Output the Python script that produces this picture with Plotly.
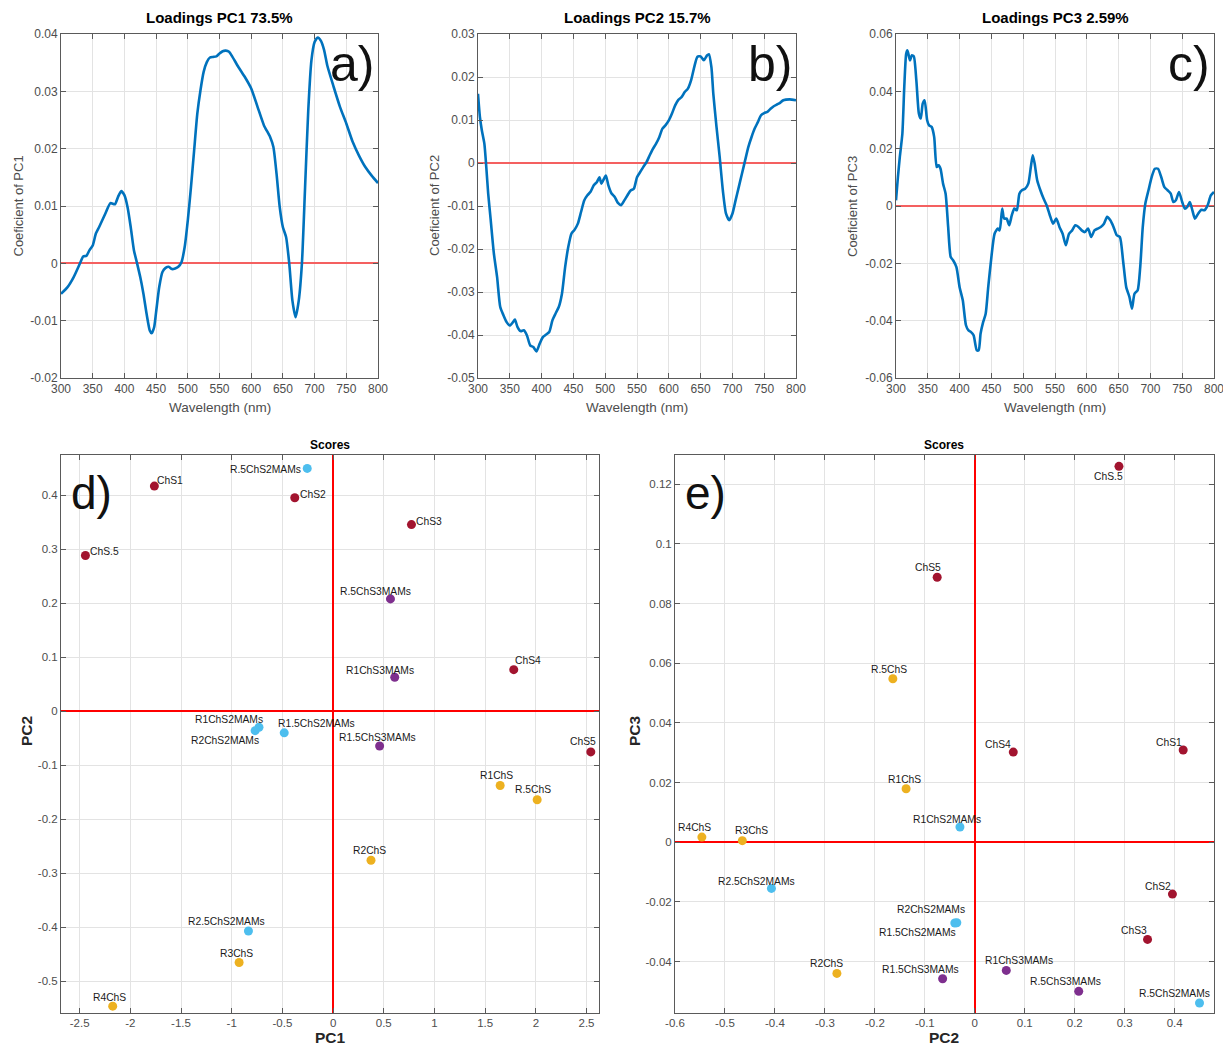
import plotly.graph_objects as go

W, H = 1223, 1045

# ---------------- Loadings data ----------------
wl_pc1 = [300, 310, 320, 330, 335, 340, 345, 350, 355, 360, 370, 378, 385, 390, 395, 400, 405, 410, 415, 420,
          425, 430, 435, 440, 443, 447, 450, 455, 460, 465, 470, 475, 480, 485, 490, 495, 500, 505, 510, 515,
          520, 525, 530, 535, 540, 545, 550, 555, 560, 565, 570, 580, 590, 600, 610, 620, 630, 635, 640, 645,
          650, 655, 660, 665, 670, 675, 680, 685, 690, 695, 700, 705, 710, 715, 720, 730, 740, 750, 760, 770,
          780, 790, 800]
pc1_load = [-0.0053, -0.0042, -0.0024, 0.0, 0.0012, 0.0013, 0.0023, 0.0031, 0.0052, 0.0063, 0.0087, 0.0105,
            0.0103, 0.0116, 0.0126, 0.0119, 0.0098, 0.0063, 0.0023, 0.0, -0.0024, -0.0053, -0.0088, -0.0117,
            -0.0122, -0.0111, -0.0085, -0.0041, -0.0015, -0.0008, -0.0006, -0.0010, -0.0009, -0.0006, 0.0002,
            0.0028, 0.0075, 0.0133, 0.0197, 0.0261, 0.0302, 0.0334, 0.0351, 0.0359, 0.0360, 0.0361, 0.0366,
            0.0370, 0.0371, 0.0369, 0.0361, 0.0342, 0.0325, 0.0305, 0.0273, 0.0241, 0.0220, 0.0203, 0.0156,
            0.0098, 0.0063, 0.0046, 0.0, -0.0065, -0.0094, -0.0065, 0.0, 0.0133, 0.0267, 0.0354, 0.0386,
            0.0394, 0.0388, 0.0372, 0.0345, 0.0308, 0.0273, 0.0244, 0.0212, 0.0188, 0.0168, 0.0153, 0.0140]

wl_pc2 = [300, 303, 306, 310, 313, 316, 320, 325, 330, 335, 340, 345, 350, 355, 358, 362, 367, 372, 377, 382,
          387, 392, 397, 402, 407, 412, 417, 422, 427, 432, 437, 442, 447, 452, 457, 462, 467, 472, 477, 482,
          487, 491, 494, 497, 501, 505, 510, 515, 520, 525, 530, 535, 540, 545, 550, 555, 560, 565, 570, 575,
          580, 585, 590, 595, 600, 605, 610, 615, 620, 625, 630, 635, 640, 645, 650, 655, 660, 663, 667, 670,
          675, 680, 685, 690, 695, 700, 705, 710, 715, 720, 725, 730, 735, 740, 745, 750, 755, 760, 765, 770,
          775, 780, 790, 800]
pc2_load = [0.0161, 0.0107, 0.0076, 0.0045, -0.0009, -0.0071, -0.0133, -0.0211, -0.0265, -0.0335, -0.0354,
            -0.0370, -0.0378, -0.0370, -0.0364, -0.0381, -0.0391, -0.0389, -0.0401, -0.0424, -0.0428, -0.0438,
            -0.0420, -0.0405, -0.0399, -0.0393, -0.0366, -0.0350, -0.0335, -0.0304, -0.0242, -0.0195, -0.0164,
            -0.0155, -0.0141, -0.0114, -0.0087, -0.0075, -0.0067, -0.0052, -0.0044, -0.0033, -0.0048, -0.0040,
            -0.0029, -0.0052, -0.0071, -0.0079, -0.0093, -0.0098, -0.0087, -0.0075, -0.0064, -0.0060, -0.0033,
            -0.0021, -0.0009, 0.0002, 0.0018, 0.0033, 0.0045, 0.0060, 0.0080, 0.0088, 0.0099, 0.0115, 0.0134,
            0.0147, 0.0153, 0.0165, 0.0173, 0.0192, 0.0223, 0.0247, 0.0248, 0.0239, 0.0250, 0.0253, 0.0223,
            0.0161, 0.0084, 0.0014, -0.0064, -0.0118, -0.0133, -0.0118, -0.0087, -0.0056, -0.0025, 0.0006,
            0.0037, 0.0060, 0.0080, 0.0095, 0.0111, 0.0116, 0.0119, 0.0126, 0.0132, 0.0136, 0.0140, 0.0146,
            0.0148, 0.0146]

wl_pc3 = [300, 303, 306, 310, 313, 316, 318, 322, 325, 328, 332, 336, 339, 342, 345, 349, 352, 356, 360, 364,
          367, 370, 374, 378, 382, 386, 390, 395, 400, 405, 410, 414, 418, 422, 427, 430, 433, 437, 441, 445,
          450, 455, 460, 463, 467, 470, 474, 478, 482, 486, 490, 494, 498, 503, 508, 512, 515, 518, 522, 527,
          532, 537, 542, 547, 552, 557, 562, 567, 572, 577, 582, 587, 592, 597, 602, 607, 612, 617, 622, 627,
          632, 637, 642, 647, 652, 657, 662, 667, 671, 675, 680, 684, 688, 692, 697, 702, 707, 712, 717, 722,
          727, 732, 736, 740, 745, 750, 754, 758, 762, 766, 770, 775, 780, 785, 790, 795, 800]
pc3_load = [0.0020, 0.0101, 0.0171, 0.0252, 0.0415, 0.0531, 0.0543, 0.0508, 0.0526, 0.0522, 0.0438, 0.0322,
            0.0305, 0.0357, 0.0369, 0.0299, 0.0281, 0.0276, 0.0241, 0.0136, 0.0142, 0.0130, 0.0078, 0.0043,
            -0.0073, -0.0178, -0.0190, -0.0213, -0.0283, -0.0329, -0.0416, -0.0434, -0.0440, -0.0451, -0.0503,
            -0.0503, -0.0445, -0.0405, -0.0376, -0.0283, -0.0178, -0.0097, -0.0079, -0.0085, -0.0009, -0.0044,
            -0.0044, -0.0067, -0.0033, -0.0009, -0.0015, 0.0043, 0.0055, 0.0060, 0.0078, 0.0136, 0.0177, 0.0148,
            0.0090, 0.0055, 0.0026, 0.0002, -0.0033, -0.0062, -0.0044, -0.0073, -0.0097, -0.0137, -0.0097,
            -0.0085, -0.0067, -0.0073, -0.0085, -0.0091, -0.0079, -0.0108, -0.0085, -0.0079, -0.0073, -0.0062,
            -0.0038, -0.0050, -0.0073, -0.0102, -0.0108, -0.0190, -0.0283, -0.0317, -0.0358, -0.0306, -0.0294,
            -0.0213, -0.0073, 0.0008, 0.0055, 0.0101, 0.0130, 0.0130, 0.0101, 0.0066, 0.0055, 0.0043, 0.0014,
            0.0020, 0.0049, 0.0014, -0.0009, -0.0003, 0.0014, -0.0015, -0.0044, -0.0027, -0.0013, -0.0015,
            0.0002, 0.0037, 0.0049]

# ---------------- Scores data ----------------
samples = ["ChS.5", "ChS1", "ChS2", "ChS3", "ChS4", "ChS5",
           "R.5ChS", "R1ChS", "R2ChS", "R3ChS", "R4ChS",
           "R.5ChS2MAMs", "R1ChS2MAMs", "R1.5ChS2MAMs", "R2ChS2MAMs", "R2.5ChS2MAMs",
           "R.5ChS3MAMs", "R1ChS3MAMs", "R1.5ChS3MAMs"]
groups = ["ChS"] * 6 + ["RChS"] * 5 + ["ChS2MAMs"] * 5 + ["ChS3MAMs"] * 3
score_pc1 = [-2.443, -1.763, -0.378, 0.773, 1.782, 2.542,
             2.013, 1.648, 0.374, -0.927, -2.174,
             -0.255, -0.731, -0.482, -0.769, -0.835,
             0.566, 0.608, 0.459]
score_pc2 = [0.2885, 0.417, 0.3955, 0.3457, 0.077, -0.0753,
             -0.164, -0.1375, -0.276, -0.4653, -0.5462,
             0.4497, -0.0297, -0.040, -0.036, -0.407,
             0.208, 0.063, -0.0644]
score_pc3 = [0.126, 0.0309, -0.0174, -0.0326, 0.0302, 0.0888,
             0.0548, 0.0179, -0.044, 0.0005, 0.0017,
             -0.0539, 0.0051, -0.0271, -0.027, -0.0155,
             -0.050, -0.043, -0.0458]

titles_top = ["Loadings PC1 73.5%", "Loadings PC2 15.7%", "Loadings PC3 2.59%"]
ylabels_top = ["Coeficient of PC1", "Coeficient of PC2", "Coeficient of PC3"]
panel_letters = ["a)", "b)", "c)", "d)", "e)"]

# ---------------- styles ----------------
group_colors = {"ChS": "#A2142F", "RChS": "#EDB120", "ChS2MAMs": "#4DBEEE", "ChS3MAMs": "#7E2F8E"}
# label offsets (px) for panel d and e: (xshift, yshift)
off_d = {"ChS.5": (19, 4), "ChS1": (16, 6), "ChS2": (18, 3.5), "ChS3": (18, 3.5), "ChS4": (14, 9),
         "ChS5": (-8, 10), "R.5ChS": (-4, 10), "R1ChS": (-3.5, 10), "R2ChS": (-2, 10), "R3ChS": (-3, 9),
         "R4ChS": (-3, 9), "R.5ChS2MAMs": (-42, -1), "R1ChS2MAMs": (-30, 8), "R1.5ChS2MAMs": (32, 9.5),
         "R2ChS2MAMs": (-30, -9.5), "R2.5ChS2MAMs": (-22, 9), "R.5ChS3MAMs": (-15, 7.5),
         "R1ChS3MAMs": (-15, 7), "R1.5ChS3MAMs": (-2, 8.5)}
off_e = {"ChS.5": (-10, -10), "ChS1": (-14.5, 8), "ChS2": (-14.5, 8), "ChS3": (-14, 8.5), "ChS4": (-15, 8),
         "ChS5": (-9, 10), "R.5ChS": (-3.5, 9.5), "R1ChS": (-2, 9.5), "R2ChS": (-10, 10), "R3ChS": (9, 10),
         "R4ChS": (-7, 9.5), "R.5ChS2MAMs": (-25, 9), "R1ChS2MAMs": (-13, 7.5), "R1.5ChS2MAMs": (-37.5, -9),
         "R2ChS2MAMs": (-25.5, 13), "R2.5ChS2MAMs": (-14.5, 7), "R.5ChS3MAMs": (-13, 9.5),
         "R1ChS3MAMs": (13, 10), "R1.5ChS3MAMs": (-22, 9.5)}

FONT = "Arial, 'Liberation Sans', sans-serif"
TICKCOL = "#4D4D4D"
FRAME = "#5A5A5A"
GRID = "#E3E3E3"

def px_x(a, b):
    return [a / W, b / W]

def px_y(top, bottom):
    return [1 - bottom / H, 1 - top / H]

boxes = {
    1: (61, 378, 34, 378),
    2: (478, 796, 34, 378),
    3: (896, 1214, 34, 378),
    4: (61, 599, 455, 1012.5),
    5: (675, 1213.5, 455, 1012.5),
}

def fmt(v):
    s = ("%.4f" % v).rstrip("0").rstrip(".")
    if s in ("-0", ""):
        s = "0"
    return s

fig = go.Figure()

# top loadings curves
for i, (wl, vals) in enumerate([(wl_pc1, pc1_load), (wl_pc2, pc2_load), (wl_pc3, pc3_load)], start=1):
    fig.add_trace(go.Scatter(x=wl, y=vals, mode="lines", line=dict(color="#0072BD", width=2.6, shape="spline", smoothing=0.6),
                             xaxis="x%d" % i, yaxis="y%d" % i, showlegend=False, hoverinfo="skip"))

# scores
pc_sets = [(score_pc1, score_pc2, 4, off_d), (score_pc2, score_pc3, 5, off_e)]
annotations = []
for xs, ys, k, offs in pc_sets:
    fig.add_trace(go.Scatter(x=xs, y=ys, mode="markers",
                             marker=dict(size=9, color=[group_colors[g] for g in groups], line=dict(width=0)),
                             xaxis="x%d" % k, yaxis="y%d" % k, showlegend=False, hoverinfo="skip"))
    for name, xv, yv in zip(samples, xs, ys):
        dx, dy = offs[name]
        annotations.append(dict(x=xv, y=yv, xref="x%d" % k, yref="y%d" % k, text=name, showarrow=False,
                                xshift=dx, yshift=dy, xanchor="center", yanchor="middle",
                                font=dict(family=FONT, size=10.3, color="#1A1A1A")))

ranges_x = {1: [300, 800], 2: [300, 800], 3: [300, 800], 4: [-2.684, 2.623], 5: [-0.6, 0.4777]}
ranges_y = {1: [-0.02, 0.04], 2: [-0.05, 0.03], 3: [-0.06, 0.06], 4: [-0.558, 0.4746], 5: [-0.0571, 0.1298]}
xticks = {1: list(range(300, 801, 50)), 2: list(range(300, 801, 50)), 3: list(range(300, 801, 50)),
          4: [-2.5, -2, -1.5, -1, -0.5, 0, 0.5, 1, 1.5, 2, 2.5],
          5: [-0.6, -0.5, -0.4, -0.3, -0.2, -0.1, 0, 0.1, 0.2, 0.3, 0.4]}
yticks = {1: [-0.02, -0.01, 0, 0.01, 0.02, 0.03, 0.04],
          2: [-0.05, -0.04, -0.03, -0.02, -0.01, 0, 0.01, 0.02, 0.03],
          3: [-0.06, -0.04, -0.02, 0, 0.02, 0.04, 0.06],
          4: [-0.5, -0.4, -0.3, -0.2, -0.1, 0, 0.1, 0.2, 0.3, 0.4],
          5: [-0.04, -0.02, 0, 0.02, 0.04, 0.06, 0.08, 0.1, 0.12]}

layout = dict(width=W, height=H, margin=dict(l=0, r=0, t=0, b=0, pad=0), paper_bgcolor="white",
              plot_bgcolor="white", showlegend=False, template="none")
for k in range(1, 6):
    x0, x1, y0, y1 = boxes[k]
    bottom = k >= 4
    zl_col = "#FF0000" if bottom else "#F46060"
    common = dict(showline=True, linecolor=FRAME, linewidth=1, mirror="allticks", ticks="inside",
                  ticklen=5, tickcolor=FRAME, showgrid=True, gridcolor=GRID, gridwidth=1,
                  tickfont=dict(family=FONT, size=12 if not bottom else 11.5, color=TICKCOL),
                  zeroline=False, automargin=False, ticklabeloverflow="allow")
    xa = dict(common, domain=px_x(x0, x1), range=ranges_x[k], anchor="y%d" % k,
              tickmode="array", tickvals=xticks[k], ticktext=[fmt(v) for v in xticks[k]])
    ya = dict(common, domain=px_y(y0, y1), range=ranges_y[k], anchor="x%d" % k,
              tickmode="array", tickvals=yticks[k], ticktext=[fmt(v) for v in yticks[k]])
    ya["zeroline"] = True
    ya["zerolinecolor"] = zl_col
    ya["zerolinewidth"] = 1.6
    if bottom:
        xa["zeroline"] = True
        xa["zerolinecolor"] = zl_col
        xa["zerolinewidth"] = 1.6
    layout["xaxis" if k == 1 else "xaxis%d" % k] = xa
    layout["yaxis" if k == 1 else "yaxis%d" % k] = ya

# titles and axis labels
for i in range(3):
    x0, x1, y0, y1 = boxes[i + 1]
    cx = (x0 + x1) / 2
    annotations.append(dict(x=cx / W, y=1 - 17 / H, xref="paper", yref="paper", text="<b>%s</b>" % titles_top[i],
                            showarrow=False, xanchor="center", yanchor="middle",
                            font=dict(family=FONT, size=15, color="#000000")))
    annotations.append(dict(x=cx / W, y=1 - 407 / H, xref="paper", yref="paper", text="Wavelength (nm)",
                            showarrow=False, xanchor="center", yanchor="middle",
                            font=dict(family=FONT, size=13.5, color="#4D4D4D")))
    ylx = [17.5, 434, 852][i]
    annotations.append(dict(x=ylx / W, y=1 - 206 / H, xref="paper", yref="paper", text=ylabels_top[i],
                            showarrow=False, textangle=-90, xanchor="center", yanchor="middle",
                            font=dict(family=FONT, size=13, color="#4D4D4D")))
    annotations.append(dict(x=(x1 - 2) / W, y=1 - 64 / H, xref="paper", yref="paper", text=panel_letters[i],
                            showarrow=False, xanchor="right", yanchor="middle",
                            font=dict(family=FONT, size=50, color="#111111")))

for k, xl, yl, ylx in [(4, "PC1", "PC2", 26), (5, "PC2", "PC3", 634)]:
    x0, x1, y0, y1 = boxes[k]
    cx = (x0 + x1) / 2
    annotations.append(dict(x=cx / W, y=1 - 445 / H, xref="paper", yref="paper", text="<b>Scores</b>",
                            showarrow=False, xanchor="center", yanchor="middle",
                            font=dict(family=FONT, size=12, color="#000000")))
    annotations.append(dict(x=cx / W, y=1 - 1037 / H, xref="paper", yref="paper", text="<b>%s</b>" % xl,
                            showarrow=False, xanchor="center", yanchor="middle",
                            font=dict(family=FONT, size=15.5, color="#262626")))
    annotations.append(dict(x=ylx / W, y=1 - 731 / H, xref="paper", yref="paper", text="<b>%s</b>" % yl,
                            showarrow=False, textangle=-90, xanchor="center", yanchor="middle",
                            font=dict(family=FONT, size=15.5, color="#262626")))
    annotations.append(dict(x=(x0 + 8) / W, y=1 - 493 / H, xref="paper", yref="paper", text=panel_letters[k - 1],
                            showarrow=False, xanchor="left", yanchor="middle",
                            font=dict(family=FONT, size=46, color="#111111")))

layout["annotations"] = annotations
fig.update_layout(**layout)
fig.write_html("out.html",
               post_script="document.body.style.margin='0';document.body.style.padding='0';"
                           "document.documentElement.style.overflow='hidden';")
